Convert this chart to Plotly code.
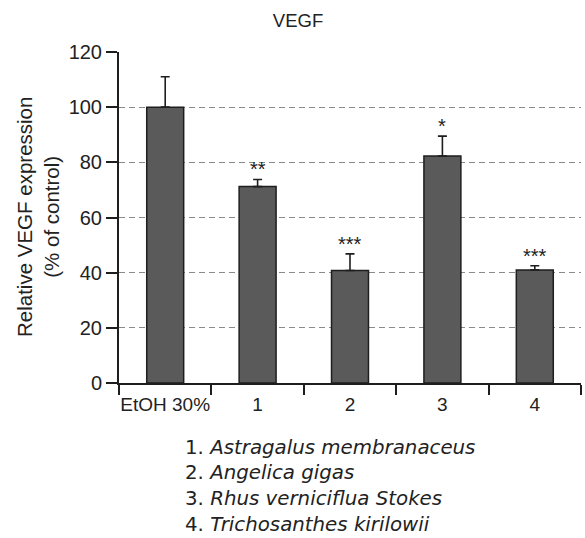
import plotly.graph_objects as go

categories = ["EtOH 30%", "1", "2", "3", "4"]
values = [100, 71.2, 40.8, 82.3, 41.0]
errors = [11.0, 2.6, 6.0, 7.2, 1.5]
stars = ["", "**", "***", "*", "***"]
legend_nums = ["1.", "2.", "3.", "4."]
legend_names = ["Astragalus membranaceus", "Angelica gigas", "Rhus verniciflua Stokes", "Trichosanthes kirilowii"]

W, H = 585, 538
ML, MR, MT, MB = 119, 4, 52, 155
PW = W - ML - MR
PH = H - MT - MB
FONT = "Liberation Sans, Arial, Helvetica, sans-serif"

fig = go.Figure()
fig.add_trace(go.Bar(
    x=categories, y=values, width=0.4,
    marker=dict(color="#5a5a5a", line=dict(color="#1e1e1e", width=1.5)),
    error_y=dict(type="data", symmetric=False, array=errors, arrayminus=[0]*len(errors),
                 color="#1e1e1e", thickness=1.6, width=4.5),
    showlegend=False,
))

annotations = []
for c, v, e, s in zip(categories, values, errors, stars):
    if s:
        annotations.append(dict(x=c, y=v + e, xref="x", yref="y", text=s, showarrow=False,
                                yanchor="bottom", yshift=-3,
                                font=dict(family=FONT, size=20, color="#222")))

# y-axis title
annotations.append(dict(x=(37.5 - ML) / PW, y=0.5, xref="paper", yref="paper",
                        text="Relative VEGF expression<br>(% of control)", textangle=-90,
                        showarrow=False, xanchor="center", yanchor="middle",
                        font=dict(family=FONT, size=20.5, color="#222")))

# legend list below
line_y = [447, 472.5, 498, 524]
for num, name, py in zip(legend_nums, legend_names, line_y):
    annotations.append(dict(x=(183 - ML) / PW, y=(H - MB - py) / PH, xref="paper", yref="paper",
                            text=f"{num}&nbsp;<i>{name}</i>", showarrow=False,
                            xanchor="left", yanchor="middle",
                            font=dict(family="DejaVu Sans, sans-serif", size=19.8, color="#222")))

fig.update_layout(
    width=W, height=H,
    margin=dict(l=ML, r=MR, t=MT, b=MB),
    paper_bgcolor="white", plot_bgcolor="white",
    title=dict(text="VEGF", x=298 / W, xref="container", xanchor="center",
               y=1 - 21 / H, yref="container", yanchor="middle",
               font=dict(family=FONT, size=18.5, color="#222")),
    annotations=annotations,
    bargap=0.6,
)
fig.update_xaxes(
    type="category", showline=True, linecolor="#1e1e1e", linewidth=2,
    ticks="outside", tickson="boundaries", ticklen=10, tickwidth=1.5, tickcolor="#1e1e1e",
    tickangle=0, ticklabelstandoff=3,
    tickfont=dict(family=FONT, size=19, color="#222"), showgrid=False, zeroline=False,
)
fig.update_yaxes(
    range=[0, 120], dtick=20, showline=True, linecolor="#1e1e1e", linewidth=2,
    ticks="outside", ticklen=11, tickwidth=1.5, tickcolor="#1e1e1e",
    tickfont=dict(family=FONT, size=20, color="#222"),
    showgrid=True, gridcolor="#8a8a8a", gridwidth=1.2, griddash="6px,4px", zeroline=False,
)

fig.write_html("out.html")
